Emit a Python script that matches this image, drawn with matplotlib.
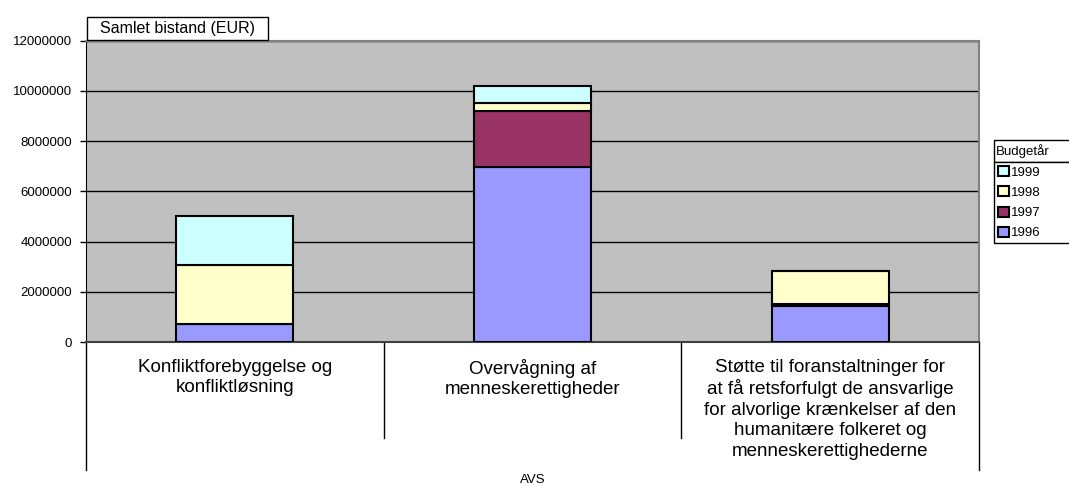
import numpy as np
import matplotlib.pyplot as plt
from matplotlib.patches import Rectangle

plt.rcParams['font.family'] = ['Liberation Sans', 'DejaVu Sans']

# Data
categories = ['Konfliktforebyggelse og\nkonfliktløsning',
              'Overvågning af\nmenneskerettigheder',
              'Støtte til foranstaltninger for\nat få retsforfulgt de ansvarlige\n'
              'for alvorlige krænkelser af den\nhumanitære folkeret og\nmenneskerettighederne']
years = ['1996', '1997', '1998', '1999']
v1996 = [700000, 6950000, 1420000]
v1997 = [0, 2250000, 100000]
v1998 = [2360000, 300000, 1300000]
v1999 = [1940000, 680000, 0]
colors = ['#9999FF', '#993366', '#FFFFCC', '#CCFFFF']
group_label = 'AVS'
yticks = [0, 2000000, 4000000, 6000000, 8000000, 10000000, 12000000]

fig = plt.figure(figsize=(10.69, 4.86), dpi=100)
ax = fig.add_axes([86 / 1069, 1 - 342 / 486, (979 - 86) / 1069, (342 - 40.7) / 486])
ax.set_facecolor('#C0C0C0')

# Stacked bars
x = np.arange(len(categories))
bottom = np.zeros(len(categories))
handles = []
for vals, c, yr in zip([v1996, v1997, v1998, v1999], colors, years):
    b = ax.bar(x, vals, 0.393, bottom=bottom, color=c, edgecolor='black',
               linewidth=1.5, label=yr, zorder=3)
    handles.append(b)
    bottom += np.array(vals)

# Axes styling
ax.set_xlim(-0.5, 2.5)
ax.set_ylim(0, 12000000)
ax.set_yticks(yticks)
ax.set_yticklabels([str(t) for t in yticks], fontsize=9.5)
ax.yaxis.grid(True, color='black', linewidth=1, zorder=0)
ax.set_xticks([])
ax.tick_params(axis='y', length=4, width=1, pad=6)
for s in ['top', 'right']:
    ax.spines[s].set_color('#808080')
    ax.spines[s].set_linewidth(1.5)
ax.spines['left'].set_color('black')
ax.spines['bottom'].set_color('#404040')
ax.spines['bottom'].set_linewidth(1.5)

# Category separators below the axis
trans = ax.get_xaxis_transform()
for xb in [0.5, 1.5]:
    ax.plot([xb, xb], [0, -0.319], color='black', linewidth=1, transform=trans, clip_on=False)
for xb in [-0.5, 2.5]:
    ax.plot([xb, xb], [0, -0.425], color='black', linewidth=1, transform=trans, clip_on=False)

# Category labels
for xi, lab in zip(x, categories):
    ax.text(xi, -0.055, lab, transform=trans, ha='center', va='top',
            fontsize=13.5, linespacing=1.26)
ax.text(1, -0.437, group_label, transform=trans, ha='center', va='top', fontsize=9.5)

# Title box
fig.add_artist(Rectangle((87 / 1069, 1 - 40 / 486), (268 - 87) / 1069, 23 / 486,
                         transform=fig.transFigure, facecolor='white', edgecolor='black',
                         linewidth=1))
fig.text(177 / 1069, 1 - 28.5 / 486, 'Samlet bistand (EUR)', ha='center', va='center',
         fontsize=11.5)

# Legend
fig.add_artist(Rectangle((994 / 1069, 1 - 162 / 486), 80 / 1069, 22 / 486,
                         transform=fig.transFigure, facecolor='white', edgecolor='black',
                         linewidth=1))
fig.text(996 / 1069, 1 - 151 / 486, 'Budgetår', ha='left', va='center', fontsize=9.5)
leg = fig.legend(handles=handles[::-1], labels=years[::-1], loc='upper left',
                 bbox_to_anchor=(994 / 1069, 1 - 162 / 486, 80 / 1069, 0), mode='expand',
                 borderaxespad=0, fontsize=9.5, fancybox=False, edgecolor='black',
                 framealpha=1, handlelength=0.8, handleheight=0.8, handletextpad=0.2,
                 labelspacing=0.58, borderpad=0.3)
leg.get_frame().set_linewidth(1)

plt.savefig('out.png', dpi=100)
